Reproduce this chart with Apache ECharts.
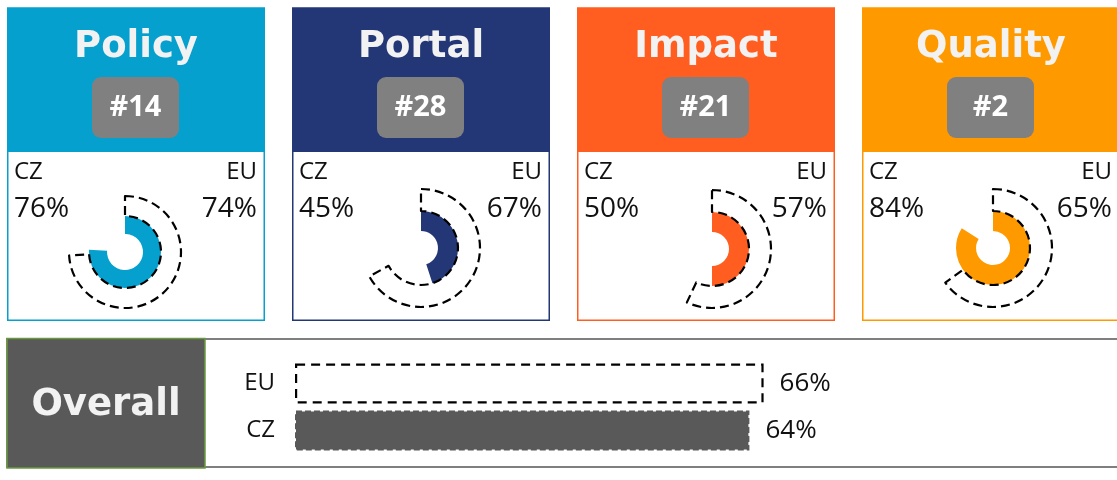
<!DOCTYPE html>
<html>
<head>
<meta charset="utf-8">
<script src="https://cdn.jsdelivr.net/npm/echarts@6/dist/echarts.min.js"></script>
<style>
  html, body { margin: 0; padding: 0; background: #ffffff; }
  #chart { width: 1117px; height: 480px; }
</style>
</head>
<body>
<div id="chart"></div>
<script>
// ---- data ----
const categories = ['Policy', 'Portal', 'Impact', 'Quality'];
const ranks = ['#14', '#28', '#21', '#2'];
const czValues = [76, 45, 50, 84];
const euValues = [74, 67, 57, 65];
const overallCategories = ['EU', 'CZ'];
const overallValues = [66, 64];
const overallTitle = 'Overall';

// ---- layout / style ----
const panelColors = ['#05A0CE', '#233777', '#FF5E20', '#FF9900'];
const panelLeft = [7, 292, 577, 862];
const panelW = 258, panelTop = 8, headerBottom = 152, panelBottom = 321;
const donutCenters = [[125, 252], [421, 248], [712, 249], [993, 248]];
const donutRadii = [[18, 36, 56], [17, 37, 59], [17, 37, 59], [17, 37, 59]];
const titleFont = 'bold 37px "DejaVu Sans"';
const badgeFont = 'bold 29px "Open Sans"';
const labelFont = '24px "Open Sans"';
const pctFont = '28px "Open Sans"';
const dash = [9, 5];

const chart = echarts.init(document.getElementById('chart'), null, { renderer: 'canvas' });

const graphics = [];
const series = [];

categories.forEach((name, i) => {
  const x0 = panelLeft[i];
  const col = panelColors[i];
  const cx = x0 + panelW / 2;
  graphics.push({
    type: 'rect', z: 0,
    shape: { x: x0 + 0.75, y: panelTop, width: panelW - 1.5, height: panelBottom - panelTop - 0.75 },
    style: { fill: '#ffffff', stroke: col, lineWidth: 1.5 }
  });
  graphics.push({
    type: 'rect', z: 1,
    shape: { x: x0, y: panelTop, width: panelW, height: headerBottom - panelTop },
    style: { fill: col }
  });
  graphics.push({
    type: 'text', z: 2,
    style: { text: name, x: cx, y: 47, font: titleFont, fill: '#F2F2F2',
             align: 'center', verticalAlign: 'middle', textAlign: 'center', textVerticalAlign: 'middle' }
  });
  graphics.push({
    type: 'rect', z: 2,
    shape: { x: cx - 44, y: 77, width: 87, height: 61, r: 9 },
    style: { fill: '#808080' }
  });
  graphics.push({
    type: 'text', z: 3,
    style: { text: ranks[i], x: cx - 0.5, y: 108, font: badgeFont, fill: '#FFFFFF',
             align: 'center', verticalAlign: 'middle', textAlign: 'center', textVerticalAlign: 'middle' }
  });
  graphics.push({
    type: 'text', z: 2,
    style: { text: 'CZ', x: x0 + 7, y: 172, font: labelFont, fill: '#111111',
             align: 'left', verticalAlign: 'middle', textAlign: 'left', textVerticalAlign: 'middle' }
  });
  graphics.push({
    type: 'text', z: 2,
    style: { text: czValues[i] + '%', x: x0 + 7, y: 209, font: pctFont, fill: '#111111',
             align: 'left', verticalAlign: 'middle', textAlign: 'left', textVerticalAlign: 'middle' }
  });
  graphics.push({
    type: 'text', z: 2,
    style: { text: 'EU', x: x0 + panelW - 8, y: 172, font: labelFont, fill: '#111111',
             align: 'right', verticalAlign: 'middle', textAlign: 'right', textVerticalAlign: 'middle' }
  });
  graphics.push({
    type: 'text', z: 2,
    style: { text: euValues[i] + '%', x: x0 + panelW - 8, y: 209, font: pctFont, fill: '#111111',
             align: 'right', verticalAlign: 'middle', textAlign: 'right', textVerticalAlign: 'middle' }
  });

  const common = {
    type: 'pie', silent: true, animation: false,
    startAngle: 90, clockwise: true, minAngle: 0,
    center: donutCenters[i],
    label: { show: false }, labelLine: { show: false },
    emphasis: { disabled: true }
  };
  series.push(Object.assign({}, common, {
    name: name + ' CZ', z: 2,
    radius: [donutRadii[i][0], donutRadii[i][1]],
    data: [
      { value: czValues[i], itemStyle: { color: col, borderWidth: 0 } },
      { value: 100 - czValues[i], itemStyle: { color: 'rgba(0,0,0,0)', borderWidth: 0 } }
    ]
  }));
  series.push(Object.assign({}, common, {
    name: name + ' EU', z: 3,
    radius: [donutRadii[i][1], donutRadii[i][2]],
    data: [
      { value: euValues[i], itemStyle: { color: 'rgba(0,0,0,0)', borderColor: '#000000', borderWidth: 2.2, borderType: dash } },
      { value: 100 - euValues[i], itemStyle: { color: 'rgba(0,0,0,0)', borderWidth: 0 } }
    ]
  }));
});

graphics.push({
  type: 'rect', z: 0,
  shape: { x: 7, y: 339, width: 1130, height: 128 },
  style: { fill: '#ffffff', stroke: '#7F7F7F', lineWidth: 2 }
});
graphics.push({
  type: 'rect', z: 1,
  shape: { x: 7, y: 338.5, width: 198, height: 129.5 },
  style: { fill: '#595959', stroke: '#6A9A3F', lineWidth: 1.5 }
});
graphics.push({
  type: 'text', z: 2,
  style: { text: overallTitle, x: 106, y: 405, font: titleFont, fill: '#F2F2F2',
           align: 'center', verticalAlign: 'middle', textAlign: 'center', textVerticalAlign: 'middle' }
});

series.push({
  type: 'bar', silent: true, animation: false, z: 2,
  barWidth: 40,
  data: overallValues.map((v, k) => ({
    value: v,
    itemStyle: k === 0
      ? { color: '#ffffff', borderColor: '#000000', borderWidth: 2.2, borderType: [9, 6] }
      : { color: '#595959', borderColor: '#595959', borderWidth: 2, borderType: [6, 3] }
  })),
  label: {
    show: true, position: 'right', distance: 16,
    formatter: '{c}%', fontFamily: 'Open Sans', fontSize: 26, color: '#111111'
  }
});

chart.setOption({
  animation: false,
  backgroundColor: '#ffffff',
  grid: { left: 295, right: 112, top: 360, height: 94, containLabel: false },
  xAxis: { type: 'value', min: 0, max: 100, show: false },
  yAxis: {
    type: 'category', data: overallCategories, inverse: true,
    axisLine: { show: false }, axisTick: { show: false }, splitLine: { show: false },
    axisLabel: { fontFamily: 'Open Sans', fontSize: 24, color: '#111111', margin: 20 }
  },
  graphic: { elements: graphics },
  series: series
});
</script>
</body>
</html>
